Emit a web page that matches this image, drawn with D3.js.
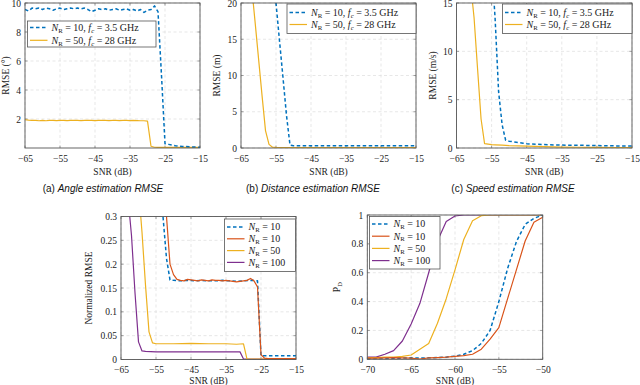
<!DOCTYPE html>
<html><head><meta charset="utf-8">
<script src="https://cdn.jsdelivr.net/npm/d3@7"></script>
<style>body{margin:0;background:#fff}svg{display:block}</style>
</head><body>
<svg id="c" width="640" height="385"></svg>
<script>
// ---------- data ----------
const angleSNR = [-65,-64,-63,-62,-61,-60,-59,-58,-57,-56,-55,-54,-53,-52,-51,-50,-49,-48,-47,-46,-45,-44,-43,-42,-41,-40,-39,-38,-37,-36,-35,-34,-33,-32,-31,-30,-29,-28,-27,-26,-25,-24,-23,-22,-21,-20,-19,-18,-17,-16,-15];
const angleBlue = [9.55,9.45,9.65,9.6,9.65,9.55,9.65,9.6,9.5,9.6,9.65,9.55,9.6,9.65,9.6,9.65,9.6,9.65,9.55,9.4,9.5,9.6,9.55,9.6,9.5,9.55,9.6,9.5,9.55,9.6,9.5,9.55,9.45,9.55,9.35,9.5,9.55,9.8,9.4,5.0,0.3,0.25,0.2,0.15,0.12,0.1,0.1,0.08,0.07,0.06,0.05];
const angleYellow = [1.95,1.92,1.9,1.9,1.88,1.9,1.88,1.9,1.9,1.89,1.9,1.9,1.89,1.9,1.9,1.9,1.89,1.9,1.9,1.9,1.89,1.9,1.9,1.9,1.89,1.9,1.9,1.89,1.9,1.9,1.89,1.9,1.89,1.88,1.88,1.85,0.12,0.05,0.04,0.04,0.04,0.04,0.04,0.04,0.04,0.04,0.04,0.04,0.04,0.04,0.04];

const distBlueSNR = [-56,-55,-54,-53,-52,-51,-50,-45,-40,-35,-30,-25,-20,-15];
const distBlue    = [25,20,14.8,9.7,4.5,0.4,0.3,0.3,0.3,0.3,0.3,0.3,0.3,0.3];
const distYellowSNR = [-62,-61,-60,-59,-58,-57,-56,-55,-50,-45,-40,-35,-30,-25,-20,-15];
const distYellow    = [22.5,17.5,12.4,7.3,2.4,0.5,0.1,0.08,0.06,0.05,0.05,0.05,0.05,0.05,0.05,0.05];

const speedBlueSNR = [-56,-55,-54,-53,-52,-51,-50,-49,-48,-47,-46,-45,-44,-42,-40,-35,-30,-25,-20,-15];
const speedBlue    = [24,19,13.4,5.8,2.4,0.8,0.7,0.65,0.6,0.55,0.5,0.45,0.42,0.38,0.35,0.3,0.28,0.25,0.22,0.2];
const speedYellowSNR = [-62,-61,-60,-59,-58,-57,-56,-55,-54,-52,-50,-45,-40,-35,-30,-25,-20,-15];
const speedYellow    = [22,17,13.5,8.2,3.0,0.45,0.4,0.35,0.33,0.3,0.25,0.2,0.15,0.1,0.08,0.06,0.05,0.05];

const nrmseBlueSNR = [-54,-53,-52,-51,-50,-48,-46,-44,-42,-40,-38,-36,-34,-32,-30,-28,-26,-25,-24,-20,-15];
const nrmseBlue    = [0.45,0.3,0.212,0.167,0.166,0.165,0.166,0.165,0.166,0.165,0.165,0.166,0.165,0.164,0.165,0.166,0.165,0.008,0.008,0.008,0.008];
const nrmseOrangeSNR = [-53,-52,-51,-50,-49,-48,-47,-46,-45,-44,-43,-42,-41,-40,-39,-38,-37,-36,-35,-34,-33,-32,-31,-30,-29,-28,-27,-26,-25,-24,-23,-20,-15];
const nrmseOrange    = [0.4,0.3,0.2,0.178,0.168,0.166,0.165,0.168,0.167,0.166,0.165,0.167,0.166,0.165,0.167,0.166,0.166,0.165,0.166,0.165,0.164,0.163,0.164,0.165,0.166,0.17,0.165,0.152,0.01,0.003,0.002,0.002,0.002];
const nrmseYellowSNR = [-60,-59,-58,-57,-56,-55,-50,-45,-40,-35,-32,-30,-29,-25,-20,-15];
const nrmseYellow    = [0.36,0.267,0.156,0.058,0.035,0.033,0.033,0.034,0.033,0.033,0.032,0.033,0.001,0.001,0.001,0.001];
const nrmsePurpleSNR = [-64,-63,-62,-61,-60,-59,-58,-55,-50,-45,-40,-35,-31,-30,-25,-20,-15];
const nrmsePurple    = [0.42,0.34,0.26,0.14,0.037,0.018,0.017,0.016,0.016,0.016,0.016,0.016,0.016,0.001,0.001,0.001,0.001];

const pdSNR = [-70,-69,-68,-67,-66,-65,-64,-63,-62,-61,-60,-59,-58,-57,-56,-55,-54,-53,-52,-51,-50];
const pdBlue   = [0.002,0.002,0.003,0.005,0.008,0.01,0.008,0.01,0.012,0.015,0.022,0.035,0.06,0.11,0.2,0.4,0.63,0.815,0.935,0.977,1.0];
const pdOrange = [0.008,0.008,0.01,0.012,0.01,0.008,0.002,0.01,0.012,0.015,0.02,0.025,0.035,0.07,0.14,0.22,0.42,0.62,0.82,0.95,0.985];
const pdYellow = [0.01,0.012,0.015,0.015,0.02,0.03,0.07,0.11,0.25,0.42,0.62,0.83,0.96,0.995,1,1,1,1,1,1,1];
const pdPurple = [0.015,0.015,0.035,0.06,0.127,0.245,0.388,0.6,0.82,0.955,0.993,1,1,1,1,1,1,1,1,1,1];

const ticksRMSEx = [-65,-55,-45,-35,-25,-15];
const ticksPDx = [-70,-65,-60,-55,-50];
const captions = ["(a) ", "Angle estimation RMSE", "(b) ", "Distance estimation RMSE", "(c) ", "Speed estimation RMSE"];

// ---------- style ----------
const C = {blue:"#0072BD", orange:"#D95319", yellow:"#EDB120", purple:"#7E2F8E"};
const serif = "'Liberation Serif','DejaVu Serif',serif";
const svg = d3.select("#c");
let clipId = 0;

function panel(o){
  const x = d3.scaleLinear().domain(o.xd).range([o.x0,o.x1]);
  const y = d3.scaleLinear().domain(o.yd).range([o.y1,o.y0]);
  const g = svg.append("g");
  g.selectAll(".gx").data(o.xt).enter().append("line")
    .attr("x1",d=>x(d)).attr("x2",d=>x(d)).attr("y1",o.y0).attr("y2",o.y1)
    .attr("stroke","#dcdcdc").attr("stroke-width",0.7).attr("stroke-dasharray","3,2.5");
  g.selectAll(".gy").data(o.yt).enter().append("line")
    .attr("y1",d=>y(d)).attr("y2",d=>y(d)).attr("x1",o.x0).attr("x2",o.x1)
    .attr("stroke","#dcdcdc").attr("stroke-width",0.7).attr("stroke-dasharray","3,2.5");
  const ax = d3.axisBottom(x).tickValues(o.xt).tickSize(0).tickPadding(7).tickFormat(o.xf||d3.format("d"));
  const ay = d3.axisLeft(y).tickValues(o.yt).tickSize(0).tickPadding(4).tickFormat(o.yf||d3.format("d"));
  const gx = g.append("g").attr("transform",`translate(0,${o.y1})`).call(ax);
  const gy = g.append("g").attr("transform",`translate(${o.x0},0)`).call(ay);
  [gx,gy].forEach(a=>{a.select(".domain").remove();
    a.selectAll("text").attr("font-family",serif).attr("font-size",9.5).attr("fill","#222");});
  g.selectAll(".tx").data(o.xt).enter().append("path")
    .attr("d",d=>`M${x(d)},${o.y1}v-2.5M${x(d)},${o.y0}v2.5`).attr("stroke","#666").attr("stroke-width",0.6);
  g.selectAll(".ty").data(o.yt).enter().append("path")
    .attr("d",d=>`M${o.x0},${y(d)}h2.5M${o.x1},${y(d)}h-2.5`).attr("stroke","#666").attr("stroke-width",0.6);
  const id = "clip"+(clipId++);
  svg.append("clipPath").attr("id",id).append("rect")
    .attr("x",o.x0).attr("y",o.y0).attr("width",o.x1-o.x0).attr("height",o.y1-o.y0);
  const lg = g.append("g").attr("clip-path",`url(#${id})`);
  const line = d3.line().x(d=>x(d[0])).y(d=>y(d[1]));
  o.series.forEach(s=>{
    lg.append("path").datum(d3.zip(s.x,s.y)).attr("d",line).attr("fill","none")
      .attr("stroke",s.c).attr("stroke-width",s.dash?1.5:1.2)
      .attr("stroke-dasharray",s.dash?"3.5,2.5":null).attr("stroke-linejoin","round");
  });
  g.append("rect").attr("x",o.x0).attr("y",o.y0).attr("width",o.x1-o.x0).attr("height",o.y1-o.y0)
    .attr("fill","none").attr("stroke","#555").attr("stroke-width",0.9);
  g.append("text").attr("x",(o.x0+o.x1)/2).attr("y",o.xty).attr("text-anchor","middle")
    .attr("font-family",serif).attr("font-size",9.5).attr("fill","#222").text("SNR (dB)");
  const yt = g.append("text").attr("transform",`translate(${o.ytx},${(o.y0+o.y1)/2}) rotate(-90)`)
    .attr("text-anchor","middle").attr("font-family",serif).attr("font-size",9.5).attr("fill","#222");
  o.ytitle(yt);
  const L = o.legend;
  const lgd = g.append("g");
  lgd.append("rect").attr("x",L.x).attr("y",L.y).attr("width",L.w).attr("height",L.h)
    .attr("fill","#fff").attr("stroke","#555").attr("stroke-width",0.8);
  L.items.forEach((it,i)=>{
    const yy = L.y + L.first + i*L.step;
    lgd.append("line").attr("x1",L.x+2.5).attr("x2",L.x+20).attr("y1",yy).attr("y2",yy)
      .attr("stroke",it.c).attr("stroke-width",it.dash?1.5:1.2).attr("stroke-dasharray",it.dash?"3.5,2.5":null);
    const t = lgd.append("text").attr("x",L.x+24).attr("y",yy+3.4)
      .attr("font-family",serif).attr("font-size",10).attr("fill","#222");
    t.append("tspan").attr("font-style","italic").text("N");
    t.append("tspan").attr("font-size",6.8).attr("dy",1.8).text("R");
    t.append("tspan").attr("dy",-1.8).text(" = "+it.n+(it.f?", ":""));
    if(it.f){
      t.append("tspan").attr("font-style","italic").text("f");
      t.append("tspan").attr("font-style","italic").attr("font-size",6.8).attr("dy",1.8).text("c");
      t.append("tspan").attr("dy",-1.8).text(" = "+it.f);
    }
  });
}
function simpleTitle(s){return t=>t.text(s);}

const legTop = [{c:C.blue,dash:true,n:"10",f:"3.5 GHz"},{c:C.yellow,n:"50",f:"28 GHz"}];
const legBot = [{c:C.blue,dash:true,n:"10"},{c:C.orange,n:"10"},{c:C.yellow,n:"50"},{c:C.purple,n:"100"}];

panel({x0:25,x1:200,y0:3,y1:148,xd:[-65,-15],yd:[0,10],xt:ticksRMSEx,yt:[2,4,6,8,10],
  xty:175,ytx:9,ytitle:simpleTitle("RMSE (°)"),
  series:[{x:angleSNR,y:angleYellow,c:C.yellow},{x:angleSNR,y:angleBlue,c:C.blue,dash:true}],
  legend:{x:27.5,y:21,w:128.5,h:26,first:6.5,step:12.8,items:legTop}});
panel({x0:241,x1:416,y0:3,y1:148,xd:[-65,-15],yd:[0,20],xt:ticksRMSEx,yt:[0,5,10,15,20],
  xty:175,ytx:220,ytitle:simpleTitle("RMSE (m)"),
  series:[{x:distYellowSNR,y:distYellow,c:C.yellow},{x:distBlueSNR,y:distBlue,c:C.blue,dash:true}],
  legend:{x:287,y:4,w:129,h:29.5,first:8.5,step:12,items:legTop}});
panel({x0:456.5,x1:632,y0:3,y1:148,xd:[-65,-15],yd:[0,15],xt:ticksRMSEx,yt:[0,5,10,15],
  xty:175,ytx:436,ytitle:simpleTitle("RMSE (m/s)"),
  series:[{x:speedYellowSNR,y:speedYellow,c:C.yellow},{x:speedBlueSNR,y:speedBlue,c:C.blue,dash:true}],
  legend:{x:502.5,y:4,w:129.5,h:29.5,first:8.5,step:12,items:legTop}});
panel({x0:121,x1:296,y0:216.5,y1:359.5,xd:[-65,-15],yd:[0,0.3],xt:ticksRMSEx,yt:[0,0.05,0.1,0.15,0.2,0.25,0.3],
  yf:d=>d===0?"0":String(d),
  xty:383.5,ytx:92,ytitle:simpleTitle("Normalized RMSE"),
  series:[{x:nrmsePurpleSNR,y:nrmsePurple,c:C.purple},{x:nrmseYellowSNR,y:nrmseYellow,c:C.yellow},
          {x:nrmseBlueSNR,y:nrmseBlue,c:C.blue,dash:true},{x:nrmseOrangeSNR,y:nrmseOrange,c:C.orange}],
  legend:{x:224.5,y:219,w:71,h:52.5,first:8,step:11.8,items:legBot}});
panel({x0:367.3,x1:542.7,y0:215,y1:359.3,xd:[-70,-50],yd:[0,1],xt:ticksPDx,yt:[0,0.2,0.4,0.6,0.8,1],
  yf:d=>String(d),
  xty:383.5,ytx:340,ytitle:t=>{t.append("tspan").text("P");t.append("tspan").attr("font-size",6.5).attr("dy",1.8).text("D");},
  series:[{x:pdSNR,y:pdPurple,c:C.purple},{x:pdSNR,y:pdYellow,c:C.yellow},
          {x:pdSNR,y:pdBlue,c:C.blue,dash:true},{x:pdSNR,y:pdOrange,c:C.orange}],
  legend:{x:369.5,y:216.5,w:70.5,h:52.5,first:7.5,step:12.2,items:legBot}});

const capX = [103,313,513];
capX.forEach((cx,i)=>{
  const t = svg.append("text").attr("x",cx).attr("y",191.5).attr("text-anchor","middle")
    .attr("font-family","'Liberation Sans',Arial,sans-serif").attr("font-size",10).attr("fill","#111");
  t.append("tspan").text(captions[2*i]);
  t.append("tspan").attr("font-style","italic").text(captions[2*i+1]);
});
</script>
</body></html>
